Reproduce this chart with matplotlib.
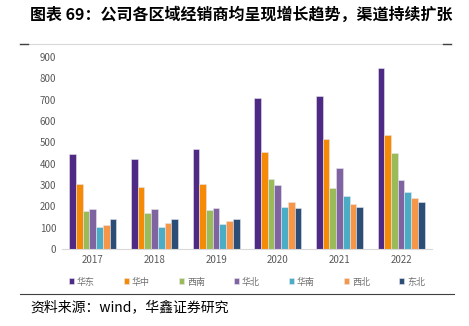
import matplotlib.pyplot as plt
import numpy as np

plt.rcParams['font.family'] = ['Noto Sans CJK SC', 'DejaVu Sans']

years = ['2017', '2018', '2019', '2020', '2021', '2022']
regions = ['华东', '华中', '西南', '华北', '华南', '西北', '东北']
huadong = [445, 423, 467, 706, 719, 850]
huazhong = [305, 291, 305, 456, 514, 534]
xinan = [178, 169, 181, 327, 286, 449]
huabei = [188, 186, 194, 299, 381, 323]
huanan = [102, 103, 116, 198, 248, 266]
xibei = [112, 122, 131, 219, 211, 238]
dongbei = [141, 139, 141, 194, 198, 222]
series = [huadong, huazhong, xinan, huabei, huanan, xibei, dongbei]
colors = ['#4E2A84', '#F58A07', '#9BBB59', '#8064A2', '#4BACC6', '#F79646', '#2C4D75']

fig = plt.figure(figsize=(4.69, 3.26), dpi=100)
ax = fig.add_axes([0.132, 0.236, 0.789, 0.589])

x = np.arange(len(years))
w = 0.109
for i, (vals, c) in enumerate(zip(series, colors)):
    ax.bar(x + (i - 3) * w, vals, width=w, color=c, label=regions[i],
           edgecolor='#E6E6EE', linewidth=0.4)

ax.set_ylim(0, 900)
ax.set_yticks(range(0, 901, 100))
ax.set_xlim(-0.5, 5.5)
ax.set_xticks(x)
ax.set_xticklabels(years)
ax.tick_params(axis='both', length=0, labelsize=7, colors='#595959', pad=4)
for s in ['top', 'right', 'left']:
    ax.spines[s].set_visible(False)
ax.spines['bottom'].set_color('#D9D9D9')

ax.legend(loc='upper center', bbox_to_anchor=(0.5, -0.105), ncol=7, frameon=False,
          fontsize=6.5, handlelength=0.6, handleheight=0.6, handletextpad=0.3,
          columnspacing=3.2, labelcolor='#707070')

fig.text(0.064, 0.955, '图表 69：公司各区域经销商均呈现增长趋势，渠道持续扩张',
         fontsize=11.5, fontweight='bold', va='center', ha='left')
fig.add_artist(plt.Line2D([0.043, 0.962], [0.865, 0.865], color='#D9D9D9', lw=0.8))
fig.add_artist(plt.Line2D([0.043, 0.06], [0.865, 0.865], color='#404040', lw=1))
fig.add_artist(plt.Line2D([0.945, 0.962], [0.865, 0.865], color='#404040', lw=1))
fig.add_artist(plt.Line2D([0.043, 0.968], [0.098, 0.098], color='#404040', lw=0.8))
fig.text(0.064, 0.058, '资料来源：wind，华鑫证券研究', fontsize=10, va='center', ha='left')

fig.savefig('out.png', dpi=100)
